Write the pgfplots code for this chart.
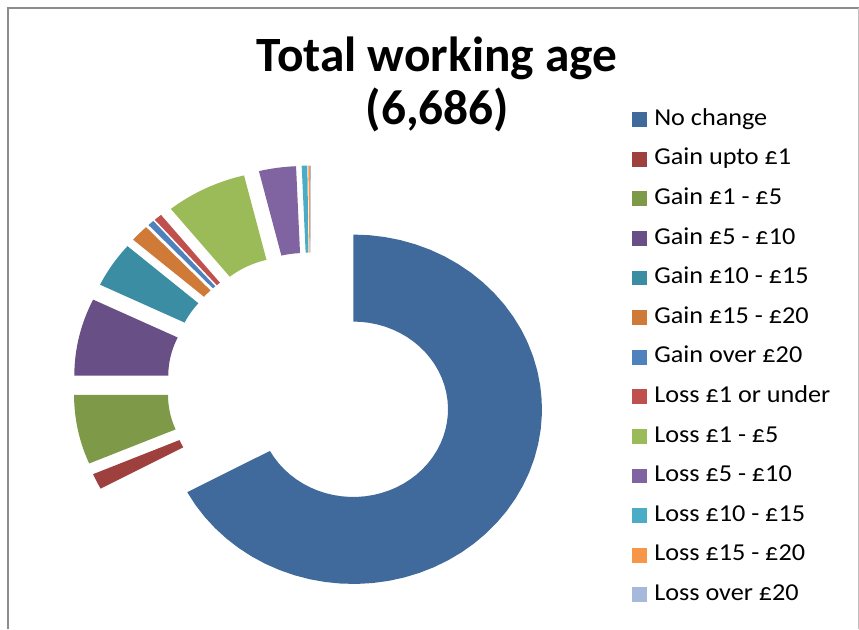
\documentclass[border=0pt]{standalone}
\usepackage{pgfplots}
\pgfplotsset{compat=1.18}
\usepackage{pgfplotstable}
\usepackage{fontspec}
\setmainfont{Carlito}
\newfontfamily\legendfont[FakeStretch=1.08]{Carlito}

\definecolor{c0}{HTML}{416A9C}
\definecolor{c1}{HTML}{9E413E}
\definecolor{c2}{HTML}{7E9A48}
\definecolor{c3}{HTML}{684F86}
\definecolor{c4}{HTML}{3A8DA3}
\definecolor{c5}{HTML}{CF7B37}
\definecolor{c6}{HTML}{4F81BD}
\definecolor{c7}{HTML}{C0504D}
\definecolor{c8}{HTML}{9BBB59}
\definecolor{c9}{HTML}{8064A2}
\definecolor{c10}{HTML}{4BACC6}
\definecolor{c11}{HTML}{F79646}
\definecolor{c12}{HTML}{A7B9DA}

% people in each band (total 6,686)
\pgfplotstableread{
idx count
0 4488
1 98
2 429
3 479
4 282
5 106
6 37
7 46
8 464
9 212
10 32
11 9
12 4
}\slices

% ring geometry, in pixels of the reference
\def\xo{311}   % centre before explosion
\def\yo{243.1}
\def\sx{1.08}  % horizontal stretch of the original
\def\dd{45.6}  % explosion distance
\def\Ro{174.7}
\def\Ri{87.7}

\begin{document}
\begin{tikzpicture}
\pgfplotstablegetrowsof{\slices}
\pgfmathtruncatemacro\nrows{\pgfplotsretval-1}
\xdef\total{0}
\foreach \i in {0,...,\nrows}{%
  \pgfplotstablegetelem{\i}{count}\of\slices
  \pgfmathsetmacro\tmpsum{\total+\pgfplotsretval}\xdef\total{\tmpsum}}
\xdef\cum{0}
\foreach \i in {0,...,\nrows}{%
  \pgfplotstablegetelem{\i}{count}\of\slices
  \pgfmathsetmacro\nc{\cum+\pgfplotsretval}
  \pgfmathsetmacro\A{90-360*(\cum/\total)}
  \pgfmathsetmacro\B{90-360*(\nc/\total)}
  \expandafter\xdef\csname sA\i\endcsname{\A}
  \expandafter\xdef\csname sB\i\endcsname{\B}
  \xdef\cum{\nc}}

\begin{axis}[
  x=0.75pt, y=0.75pt,
  xmin=0, xmax=859, ymin=0, ymax=629,
  hide axis, clip=false,
  legend image code/.code={\fill[#1] (0pt,-5.5pt) rectangle (11pt,5.5pt);
    \path[draw=none, fill=none] (0pt,0pt) -- (13.5pt,0pt);},
  legend cell align=left,
  legend style={at={(axis cs:632,520)}, anchor=north west, draw=none, fill=none,
    inner sep=0pt, row sep=14.2pt,
    font=\legendfont\fontsize{18.2}{21}\selectfont,
    nodes={text height=12pt, text depth=3.5pt, inner ysep=0pt, inner xsep=3pt}},
]
\pgfplotsinvokeforeach{0,...,12}{%
  \edef\A{\csname sA#1\endcsname}\edef\B{\csname sB#1\endcsname}
  \pgfmathsetmacro\mx{\xo+\sx*\dd*cos((\A+\B)/2)}
  \pgfmathsetmacro\my{\yo+\dd*sin((\A+\B)/2)}
  \edef\doplot{\noexpand\addplot[fill=c#1, draw=none, forget plot,
      domain=0:2, samples=101, variable=\noexpand\u]
    ({\mx+\sx*ifthenelse(\noexpand\u<1.01, \Ro*cos(\A+(\B-\A)*\noexpand\u), \Ri*cos(\B+(\A-\B)*(\noexpand\u-1.02)/0.98))},
     {\my+ifthenelse(\noexpand\u<1.01, \Ro*sin(\A+(\B-\A)*\noexpand\u), \Ri*sin(\B+(\A-\B)*(\noexpand\u-1.02)/0.98))});}
  \doplot
}
\pgfplotsinvokeforeach{0,...,12}{\addlegendimage{fill=c#1, draw=none}}
\legend{No change, Gain upto £1, Gain £1 - £5, Gain £5 - £10, Gain £10 - £15,
  Gain £15 - £20, Gain over £20, Loss £1 or under, Loss £1 - £5,
  Loss £5 - £10, Loss £10 - £15, Loss £15 - £20, Loss over £20}

\node[anchor=base, font=\bfseries\fontsize{37}{40}\selectfont] at (axis cs:437,557.3) {Total working age};
\node[anchor=base, font=\bfseries\fontsize{37}{40}\selectfont] at (axis cs:437.5,504) {(6,686)};

\draw[color=black!45, line width=1.5pt] (axis cs:8,0) -- (axis cs:8,621) -- (axis cs:859,621);
\draw[color=black!25, line width=0.75pt] (axis cs:858.3,621) -- (axis cs:858.3,0);
\end{axis}
\pgfresetboundingbox
\path (current axis.south west) rectangle (current axis.north east);
\end{tikzpicture}
\end{document}
